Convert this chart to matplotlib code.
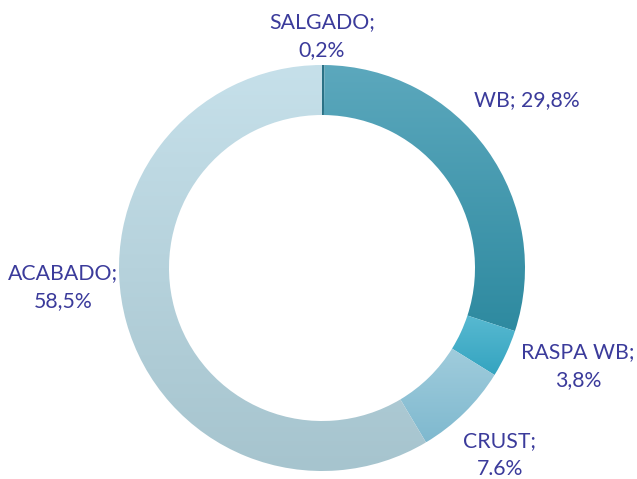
import numpy as np
import matplotlib.pyplot as plt
from matplotlib.colors import LinearSegmentedColormap

# data
categories = ['SALGADO', 'WB', 'RASPA WB', 'CRUST', 'ACABADO']
shares = [0.2, 29.8, 3.8, 7.6, 58.5]
label_texts = ['SALGADO;\n0,2%', 'WB; 29,8%', 'RASPA WB;\n3,8%', 'CRUST;\n7.6%', 'ACABADO;\n58,5%']

# gradient colours per slice (top, bottom)
grad_colors = [
    ('#2b7286', '#2b7286'),
    ('#5ca8bd', '#2e8aa0'),
    ('#58b9d1', '#34a4c0'),
    ('#a0ccdc', '#7fb9cf'),
    ('#c6e0ea', '#a6c4ce'),
]
text_color = '#3b3b9b'

W, H = 637, 479
cx, cy, R = 322, 268, 203  # pixel centre / radius

fig = plt.figure(figsize=(W / 100, H / 100), dpi=100)
ax = fig.add_axes([0, 0, 1, 1])

wedges, _ = ax.pie(shares, startangle=90, counterclock=False, radius=1,
                   wedgeprops=dict(width=50 / R, linewidth=0))

ax.set_aspect('equal')
ax.axis('off')

# vertical gradient fill clipped to each wedge
grad = np.linspace(0, 1, 256).reshape(-1, 1)
for w, (top, bot) in zip(wedges, grad_colors):
    w.set_facecolor('none')
    cmap = LinearSegmentedColormap.from_list('g', [top, bot])
    bb = w.get_path().get_extents()
    im = ax.imshow(grad, cmap=cmap, aspect='auto', interpolation='bilinear',
                   extent=[bb.x0, bb.x1, bb.y0, bb.y1], origin='upper', zorder=1)
    im.set_clip_path(w)

ax.set_xlim(-cx / R, (W - cx) / R)
ax.set_ylim(-(H - cy) / R, cy / R)

# label positions in pixels (centre of text)
label_px = [(322, 36), (527, 100), (578, 366), (500, 455), (63, 287)]
for txt, (px, py) in zip(label_texts, label_px):
    ax.text((px - cx) / R, (cy - py) / R, txt, ha='center', va='center',
            color=text_color, fontsize=15.3, family=['Lato', 'DejaVu Sans'],
            linespacing=1.5)

fig.savefig('out.png', dpi=100)
